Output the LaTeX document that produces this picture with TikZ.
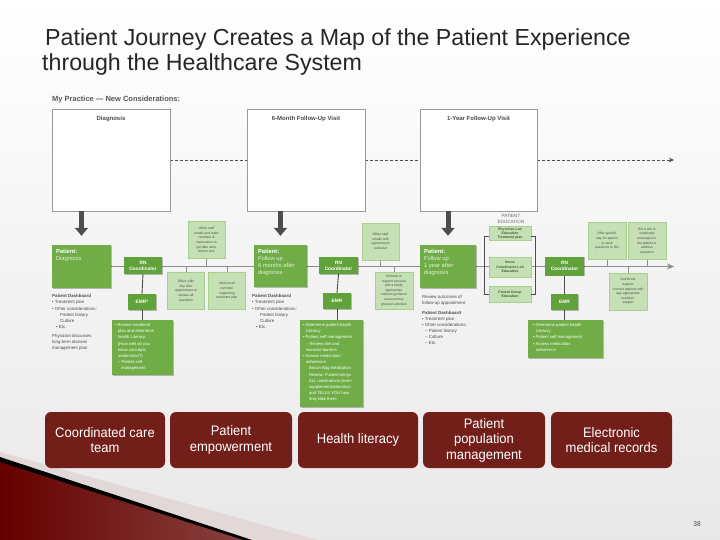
\documentclass[tikz,border=0pt]{standalone}
\usepackage{fontspec}
\setmainfont{Liberation Sans}
\newfontfamily\narrowfont[FakeStretch=0.94]{Liberation Sans}
\usetikzlibrary{arrows.meta,calc,shadows}
\definecolor{gmid}{HTML}{70AD47}
\definecolor{gdark}{HTML}{62A23A}
\definecolor{glight}{HTML}{C5E0B4}
\definecolor{gborder}{HTML}{A9CF8E}
\definecolor{gpale}{HTML}{E2F0D9}
\definecolor{dred}{HTML}{721F1A}
\definecolor{txtgrey}{HTML}{4A4A4A}
\definecolor{boxgrey}{HTML}{9A9A9A}
\definecolor{linegrey}{HTML}{8C8C8C}
\definecolor{arrgrey}{HTML}{4D4D4D}
\definecolor{titlec}{HTML}{262626}
\definecolor{edutxt}{HTML}{3F5F2A}
\pgfdeclarelayer{back}
\pgfdeclarelayer{bg}
\pgfsetlayers{back,bg,main}
\tikzset{
  visitbox/.style={draw=boxgrey, fill=white, line width=0.7pt, inner sep=0pt},
  visitlabel/.style={font=\bfseries\fontsize{6}{7}\selectfont, text=txtgrey, inner sep=0pt, anchor=north},
  pbox/.style={fill=gmid, inner sep=0pt, general shadow={fill=black, opacity=0.25, shadow xshift=0.8pt, shadow yshift=-0.8pt}},
  ptext/.style={anchor=north west, inner sep=0pt, align=left, font=\fontsize{5.8}{7}\selectfont, text=gpale},
  rnbox/.style={fill=gdark, text=white, inner sep=0pt, align=center, font=\bfseries\fontsize{4.8}{6}\selectfont, general shadow={fill=black, opacity=0.25, shadow xshift=0.6pt, shadow yshift=-0.6pt}},
  bigbox/.style={fill=gmid, text=white, inner sep=0pt, general shadow={fill=black, opacity=0.25, shadow xshift=0.8pt, shadow yshift=-0.8pt}},
  bigtext/.style={anchor=north west, inner sep=0pt, align=left, text=white, font=\fontsize{4.2}{6.2}\selectfont},
  lbox/.style={fill=glight, draw=gborder, line width=0.4pt, text=txtgrey, inner sep=0pt, align=center, font=\fontsize{3.3}{4.6}\selectfont, minimum width=37, minimum height=37, general shadow={fill=black, opacity=0.12, shadow xshift=0.6pt, shadow yshift=-0.6pt}},
  edubox/.style={fill=glight, draw=gborder, line width=0.4pt, text=edutxt, inner sep=0pt, align=center, font=\bfseries\fontsize{3.5}{4.3}\selectfont, minimum width=42},
  dashtext/.style={anchor=north west, inner sep=0pt, align=left, text=txtgrey, font=\fontsize{4.4}{6.1}\selectfont},
  redbox/.style={fill=dred, rounded corners=6pt, text=white, inner sep=0pt, align=center, minimum height=56, font=\narrowfont\fontsize{13.8}{15.5}\selectfont},
  dashline/.style={draw=arrgrey, line width=0.6pt, dash pattern=on 3pt off 2pt},
  timeline/.style={draw=linegrey, line width=1.4pt},
  vconn/.style={draw=arrgrey, line width=0.9pt},
  tickline/.style={draw=linegrey, line width=0.9pt},
  downarrow/.style={draw=arrgrey, line width=5pt, -{Triangle[width=13pt,length=8pt]}, shorten >=9pt},
}
\begin{document}
\begin{tikzpicture}[x=1pt,y=-1pt]
\useasboundingbox (0,0) rectangle (720,540);
% background
\begin{pgfonlayer}{back}
\shade[top color=white, bottom color=black!9] (0,0) rectangle (720,540);
\fill[black!20!pink!60!gray!35] (0,452) -- (318,540) -- (0,540) -- cycle;
\fill[black] (0,457) -- (252,540) -- (0,540) -- cycle;
\shade[left color=red!40!black, right color=dred!85!white] (0,462) -- (243,540) -- (0,540) -- cycle;
\end{pgfonlayer}

% title
\node[anchor=base west, inner sep=0pt, text=titlec, font=\fontsize{23.2}{28}\selectfont] (title1) at (45,46) {Patient Journey Creates a Map of the Patient Experience};
\node[anchor=base west, inner sep=0pt, text=titlec, font=\fontsize{23.2}{28}\selectfont] (title2) at (42,71) {through the Healthcare System};

\node[anchor=base west, inner sep=0pt, text=black!65, font=\bfseries\fontsize{7.5}{9}\selectfont] (mypractice) at (52,102) {My Practice --- New Considerations:};

% visit boxes
\node[visitbox, minimum width=118, minimum height=102] (diag) at (111,160) {};
\node[visitbox, minimum width=118, minimum height=102] (six) at (306,160) {};
\node[visitbox, minimum width=117, minimum height=102] (year) at (478.5,160) {};
\node[visitlabel] (diagl) at ([yshift=-7pt]diag.north) {Diagnosis};
\node[visitlabel] (sixl) at ([yshift=-7pt]six.north) {6-Month Follow-Up Visit};
\node[visitlabel] (yearl) at ([yshift=-7pt]year.north) {1-Year Follow-Up Visit};
\coordinate (dashend) at (674,160);

% patient boxes
\node[pbox, minimum width=59, minimum height=43] (pd) at (81.5,266.5) {};
\node[pbox, minimum width=53, minimum height=42] (p6) at (280.5,266) {};
\node[pbox, minimum width=56, minimum height=43] (p1y) at (448,266.5) {};
\node[ptext] (pdt) at ([xshift=4pt,yshift=-4pt]pd.north west) {\textcolor{white}{\bfseries Patient:}\\Diagnosis};
\node[ptext] (p6t) at ([xshift=4pt,yshift=-4pt]p6.north west) {\textcolor{white}{\bfseries Patient:}\\Follow up\\6 months after\\diagnosis};
\node[ptext] (p1yt) at ([xshift=4pt,yshift=-4pt]p1y.north west) {\textcolor{white}{\bfseries Patient:}\\Follow up\\1 year after\\diagnosis};
\coordinate (tlE) at (674,266.5);

% RN coordinators and EMR
\node[rnbox, minimum width=38, minimum height=17] (rn1) at (143,265.5) {RN\\Coordinator};
\node[rnbox, minimum width=39, minimum height=17] (rn2) at (338.5,265.5) {RN\\Coordinator};
\node[rnbox, minimum width=39, minimum height=19] (rn3) at (564.5,266) {RN\\Coordinator};
\node[rnbox, minimum width=28, minimum height=16] (emr1) at (142,302) {EMR*};
\node[rnbox, minimum width=28, minimum height=16] (emr2) at (337,301) {EMR};
\node[rnbox, minimum width=27, minimum height=16] (emr3) at (564.5,302) {EMR};

% big boxes
\node[bigbox, minimum width=61, minimum height=55] (b1) at (142.5,347.5) {};
\node[bigbox, minimum width=63, minimum height=87] (b2) at (331.5,363.5) {};
\node[bigbox, minimum width=75, minimum height=38] (b3) at (565.5,339) {};
\node[bigtext] (b1t) at ([xshift=3pt,yshift=-3.5pt]b1.north west) {\textbullet{} Review treatment\\\hspace*{3pt}plan and determine\\\hspace*{3pt}health Literacy:\\\hspace*{3pt}(How well do you\\\hspace*{3pt}know concepts\\\hspace*{3pt}understood?)\\\hspace*{3pt}-- Patient self\\\hspace*{6pt}management};
\node[bigtext] (b2t) at ([xshift=3pt,yshift=-3.5pt]b2.north west) {\textbullet{} Determine patient health\\\hspace*{3pt}Literacy\\\textbullet{} Patient self management\\\hspace*{3pt}-- Review diet and\\\hspace*{3pt}exercise barriers\\\textbullet{} Assess medication\\\hspace*{3pt}adherence\\\hspace*{6pt}Brown Bag Medication\\\hspace*{6pt}Review: Patient brings\\\hspace*{6pt}ALL medications (even\\\hspace*{6pt}supplements/vitamins)\\\hspace*{6pt}and TELLS YOU how\\\hspace*{6pt}they take them};
\node[bigtext] (b3t) at ([xshift=5pt,yshift=-3.5pt]b3.north west) {\textbullet{} Determine patient health\\\hspace*{3pt}Literacy\\\textbullet{} Patient self management\\\textbullet{} Assess medication\\\hspace*{3pt}adherence};

% light boxes
\node[lbox] (lA) at (206.5,240) {Office staff\\emails and mails\\reminder \&\\instructions to\\get labs done\\before visit};
\node[lbox] (lB) at (186,291) {Office calls\\day after\\appointment to\\answer all\\questions};
\node[lbox] (lC) at (227,291) {Med recall\\reminder\\supporting\\treatment plan};
\node[lbox] (lD) at (380.5,241.5) {Office staff\\emails with\\appointment\\reminder};
\node[lbox, minimum width=38] (lE) at (394,290.5) {Referral to\\support services\\with a family\\appropriate\\nutrition guidance\\and exercise/\\physical activities};
\node[lbox, minimum width=38] (lF) at (607,241) {Offer specific\\way for patient\\to send\\questions to RN};
\node[lbox, minimum width=38] (lG) at (647,241) {RN is link to\\send/reply\\messages to\\the patient to\\address\\questions};
\node[lbox, minimum width=38] (lH) at (628,291.5) {Nutritional\\support:\\connect patients with\\age-appropriate\\nutrition/\\support};

% patient education
\node[inner sep=0pt, align=center, text=black!60, font=\fontsize{4.6}{5.8}\selectfont] (edul) at (511,219) {PATIENT\\EDUCATION};
\node[edubox, minimum height=14] (e1) at (510,233.5) {Physician-Led\\Education\\Treatment plan};
\node[edubox, minimum height=20] (e2) at (510,267) {Nurse\\Coordinator-Led\\Education};
\node[edubox, minimum height=16] (e3) at (510,294) {Patient Group\\Education};

% dashboards
\node[dashtext] (d1) at (52,294.5) {\textbf{Patient Dashboard}\\\textbullet{} Treatment plan\\\textbullet{} Other considerations:\\\hspace*{8pt}Patient history\\\hspace*{8pt}Culture\\\hspace*{4pt}\textbullet{} Etc.\\[3pt]Physician discusses\\long-term disease\\management plan};
\node[dashtext] (d2) at (252,294.5) {\textbf{Patient Dashboard}\\\textbullet{} Treatment plan\\\textbullet{} Other considerations:\\\hspace*{8pt}Patient history\\\hspace*{8pt}Culture\\\hspace*{4pt}\textbullet{} Etc.};
\node[dashtext] (d3) at (422,295.5) {Review outcomes of\\follow-up appointment\\[3pt]\textbf{Patient Dashboard}\\\textbullet{} Treatment plan\\\textbullet{} Other considerations:\\\hspace*{3pt}-- Patient history\\\hspace*{3pt}-- Culture\\\hspace*{3pt}-- Etc.};

% bottom red boxes
\node[redbox, minimum width=120] (c1) at (105,440) {Coordinated care\\team};
\node[redbox, minimum width=122] (c2) at (231,440) {Patient\\empowerment};
\node[redbox, minimum width=120] (c3) at (358,440) {Health literacy};
\node[redbox, minimum width=122] (c4) at (484,440) {Patient\\population\\management};
\node[redbox, minimum width=121] (c5) at (611.5,440) {Electronic\\medical records};

\node[inner sep=0pt, text=black!70, font=\narrowfont\fontsize{7}{8}\selectfont] (pagenum) at (697,524) {38};

% connectors
\begin{pgfonlayer}{bg}
\draw[dashline] (diag.east) -- (six.west);
\draw[dashline] (six.east) -- (year.west);
\draw[dashline, -{Stealth[length=5pt,width=4.5pt]}] (year.east) -- (dashend);
\draw[timeline, -{Stealth[length=7pt,width=6pt]}] (pd.east) -- (tlE);
\draw[vconn] (rn1.south) -- (emr1.north);
\draw[vconn] (emr1.south) -- (b1.north -| emr1.south);
\draw[vconn] (rn2.south) -- (emr2.north);
\draw[vconn] (emr2.south) -- (b2.north -| emr2.south);
\draw[vconn] (rn3.south) -- (emr3.north);
\draw[vconn] (emr3.south) -- (b3.north -| emr3.south);
\draw[tickline] (lA.south) -- (lA.south |- tlE);
\draw[tickline] (lB.north) -- (lB.north |- tlE);
\draw[tickline] (lC.north) -- (lC.north |- tlE);
\draw[tickline] (lD.south) -- (lD.south |- tlE);
\draw[tickline] (lE.north) -- (lE.north |- tlE);
\draw[tickline] (lF.south) -- (lF.south |- tlE);
\draw[tickline] (lG.south) -- (lG.south |- tlE);
\draw[tickline] (lH.north) -- (lH.north |- tlE);
\end{pgfonlayer}
\draw[vconn] ([yshift=-3pt]e1.west) -- ++(-4,0) |- (e3.west);
\draw[vconn] ([yshift=-3pt]e1.east) -- ++(4,0) |- (e3.east);
\draw[downarrow] (diag.south -| pd.north) -- (pd.north);
\draw[downarrow] (six.south -| p6.north) -- (p6.north);
\draw[downarrow] (year.south -| p1y.north) -- (p1y.north);
\end{tikzpicture}
\end{document}
